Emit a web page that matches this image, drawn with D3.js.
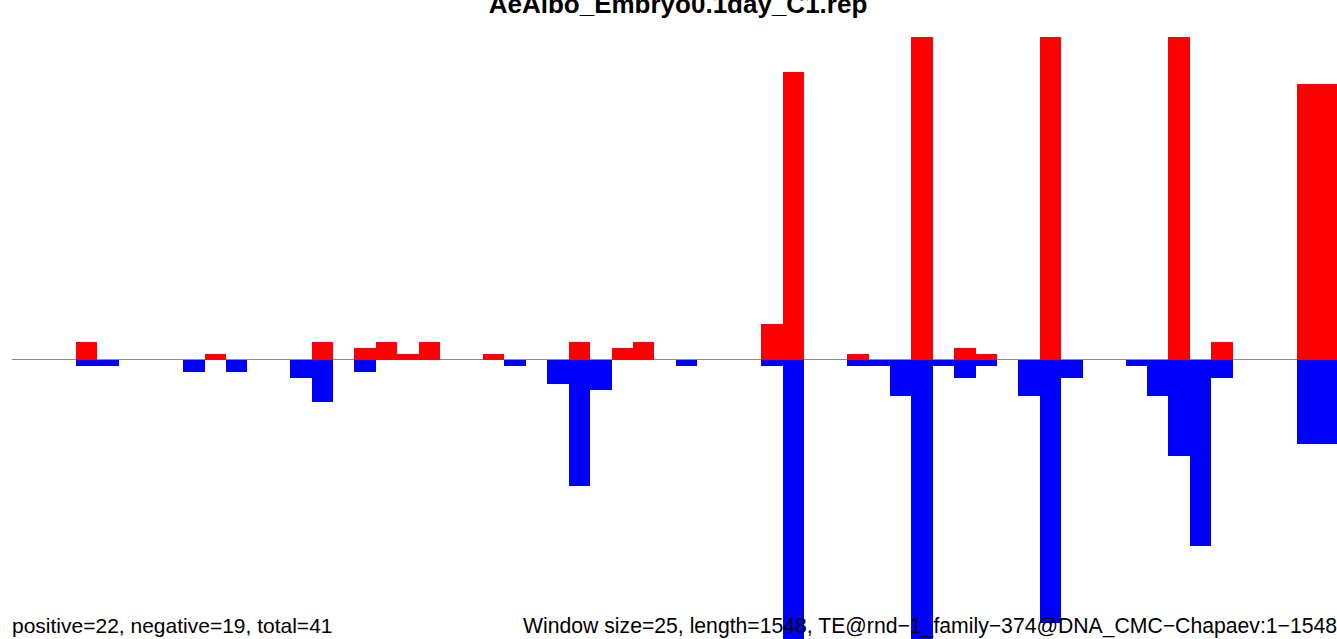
<!DOCTYPE html>
<html>
<head>
<meta charset="utf-8">
<script src="https://cdn.jsdelivr.net/npm/d3@7"></script>
<style>
  html, body { margin: 0; padding: 0; background: #ffffff; overflow: hidden; }
  svg { display: block; }
  text { font-family: "Liberation Sans", Arial, Helvetica, sans-serif; }
</style>
</head>
<body>
<svg id="chart" width="1337" height="639"></svg>
<script>
// Window start positions (window size 25, length 1548)
const windowStarts = d3.range(0, 1548, 25);
// Positive-strand (red) counts per window
const positiveValues = [0,0,0,3,0,0,0,0,0,1,0,0,0,0,3,0,2,3,1,3,0,0,1,0,0,0,3,0,2,3,0,0,0,0,0,6,48,0,0,1,0,0,60,0,2,1,0,0,60,0,0,0,0,0,60,0,3,0,0,0,46,46];
// Negative-strand (blue) counts per window
const negativeValues = [0,0,0,1,1,0,0,0,2,0,2,0,0,3,7,0,2,0,0,0,0,0,0,1,0,4,21,5,0,0,0,1,0,0,0,1,56,0,0,1,1,6,56,1,3,1,0,6,43.8,3,0,0,1,6,16,31,3,0,0,0,14,14];

const titleText = "AeAlbo_Embryo0.1day_C1.rep";
const leftNote = "positive=22, negative=19, total=41";
const rightNote = "Window size=25, length=1548, TE@rnd\u22121_family\u2212374@DNA_CMC\u2212Chapaev:1\u22121548";

const svg = d3.select("#chart");

const x = d3.scaleLinear().domain([0, windowStarts.length]).range([11.75, 1339.8]);
const y = d3.scaleLinear().domain([-53.83, 53.83]).range([683, 37]);

svg.append("defs").append("clipPath").attr("id", "plotclip")
  .append("rect")
  .attr("x", x(0)).attr("y", y(53.83))
  .attr("width", x(windowStarts.length) - x(0))
  .attr("height", y(-53.83) - y(53.83));

// baseline
svg.append("line")
  .attr("x1", x(0)).attr("x2", x(windowStarts.length))
  .attr("y1", y(0) - 0.5).attr("y2", y(0) - 0.5)
  .attr("stroke", "#8a8a8a").attr("stroke-width", 1.2);

const g = svg.append("g").attr("clip-path", "url(#plotclip)");

g.selectAll("rect.pos")
  .data(positiveValues.map((v, i) => ({ i, v })).filter(d => d.v > 0))
  .join("rect").attr("class", "pos")
  .attr("x", d => x(d.i))
  .attr("width", d => x(d.i + 1) - x(d.i))
  .attr("y", d => y(d.v))
  .attr("height", d => y(0) - y(d.v))
  .attr("fill", "#ff0000")
  .attr("shape-rendering", "crispEdges");

g.selectAll("rect.neg")
  .data(negativeValues.map((v, i) => ({ i, v })).filter(d => d.v > 0))
  .join("rect").attr("class", "neg")
  .attr("x", d => x(d.i))
  .attr("width", d => x(d.i + 1) - x(d.i))
  .attr("y", y(0))
  .attr("height", d => y(-d.v) - y(0))
  .attr("fill", "#0000ff")
  .attr("shape-rendering", "crispEdges");

// title
svg.append("text")
  .attr("x", 678).attr("y", 13)
  .attr("text-anchor", "middle")
  .attr("font-size", 26).attr("font-weight", "bold")
  .attr("fill", "#000")
  .text(titleText);

// bottom notes
svg.append("text")
  .attr("x", 12).attr("y", 633)
  .attr("font-size", 21).attr("fill", "#000")
  .text(leftNote);

svg.append("text")
  .attr("x", 523).attr("y", 633)
  .attr("font-size", 21.2).attr("fill", "#000")
  .text(rightNote);
</script>
</body>
</html>
